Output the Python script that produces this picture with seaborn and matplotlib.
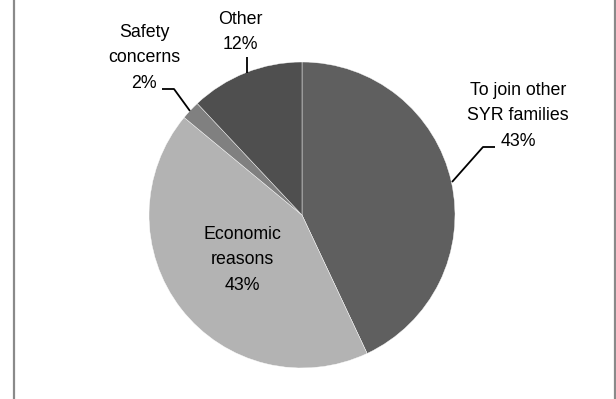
import matplotlib
matplotlib.use("Agg")
import matplotlib.pyplot as plt
from matplotlib.lines import Line2D
import seaborn as sns

# Reasons for relocation (share of households, %)
categories = ["To join other\nSYR families", "Economic\nreasons", "Safety\nconcerns", "Other"]
shares = [43, 43, 2, 12]
slice_colors = ["#5f5f5f", "#b3b3b3", "#808080", "#4f4f4f"]

sns.set_theme(style="white")
plt.rcParams["font.family"] = ["Liberation Sans", "DejaVu Sans"]

W, H = 616, 399
fig = plt.figure(figsize=(W / 100, H / 100), dpi=100)
ax = fig.add_axes([0, 0, 1, 1])

# Pie in pixel-like data units (origin bottom-left)
cx, cy, r = 302, H - 215, 153
ax.pie(shares, colors=slice_colors, startangle=90, counterclock=False,
       center=(cx, cy), radius=r,
       wedgeprops=dict(edgecolor="#ffffff", linewidth=0.3))
ax.set_xlim(0, W)
ax.set_ylim(0, H)
ax.set_aspect("equal")
ax.axis("off")

labels = [f"{c}\n{v}%" for c, v in zip(categories, shares)]
label_pos = [(518, 116), (242, 260), (144, 58), (240, 32)]
txt = dict(ha="center", va="center", fontsize=12.8, color="#000000", linespacing=1.62)
for lab, (x, y) in zip(labels, label_pos):
    ax.text(x, H - y, lab, **txt)

# Leader lines from slice edges to their labels
leaders = [
    [(452, 182), (483, 147), (495, 147)],
    [(190, 111), (174, 89), (162, 89)],
    [(247, 73), (247, 57)],
]
for pts in leaders:
    xs = [p[0] for p in pts]
    ys = [H - p[1] for p in pts]
    ax.plot(xs, ys, color="#000000", linewidth=1.3, solid_capstyle="butt")

# Side rules of the chart frame
for x in (13.5, 614.5):
    fig.add_artist(Line2D([x / W, x / W], [0, 1], transform=fig.transFigure,
                          color="#8a8a8a", linewidth=1.6))

fig.savefig("out.png", dpi=100, facecolor="white")
